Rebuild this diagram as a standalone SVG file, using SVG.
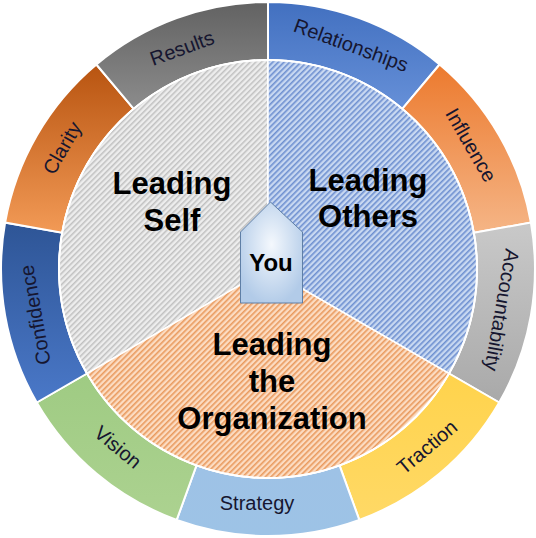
<svg xmlns="http://www.w3.org/2000/svg" width="536" height="538" viewBox="0 0 536 538">
<style>
.seg{stroke:#ffffff;stroke-width:2;stroke-linejoin:miter}
.pie{stroke:#ffffff;stroke-width:1.5}
.lbl{font-family:"Liberation Sans",Arial,sans-serif;font-size:20px;fill:#161630;text-anchor:middle;dominant-baseline:central}
.big{font-family:"Liberation Sans",Arial,sans-serif;font-size:31px;font-weight:bold;fill:#000000;text-anchor:middle}
.you{font-family:"Liberation Sans",Arial,sans-serif;font-size:24px;font-weight:bold;fill:#000000;text-anchor:middle}
</style>
<defs>
<linearGradient id="gRes" x1="0" y1="0" x2="0" y2="1"><stop offset="0" stop-color="#626262"/><stop offset="1" stop-color="#8c8c8c"/></linearGradient>
<linearGradient id="gRel" x1="0" y1="0" x2="0" y2="1"><stop offset="0" stop-color="#4270c0"/><stop offset="1" stop-color="#6690d8"/></linearGradient>
<linearGradient id="gInf" x1="0" y1="0" x2="0" y2="1"><stop offset="0" stop-color="#ec7a2e"/><stop offset="1" stop-color="#f5b586"/></linearGradient>
<linearGradient id="gAcc" x1="0" y1="0" x2="0" y2="1"><stop offset="0" stop-color="#c9c9c9"/><stop offset="1" stop-color="#a9a9a9"/></linearGradient>
<linearGradient id="gTra" x1="0" y1="0" x2="0" y2="1"><stop offset="0" stop-color="#ffd34c"/><stop offset="1" stop-color="#ffd966"/></linearGradient>
<linearGradient id="gStr" x1="0" y1="0" x2="0" y2="1"><stop offset="0" stop-color="#9ec2e6"/><stop offset="1" stop-color="#9dc3e6"/></linearGradient>
<linearGradient id="gVis" x1="0" y1="0" x2="0" y2="1"><stop offset="0" stop-color="#9fcb83"/><stop offset="1" stop-color="#acd290"/></linearGradient>
<linearGradient id="gCon" x1="0" y1="0" x2="0" y2="1"><stop offset="0" stop-color="#2e5596"/><stop offset="1" stop-color="#4a78c8"/></linearGradient>
<linearGradient id="gCla" x1="0" y1="0" x2="0" y2="1"><stop offset="0" stop-color="#b85410"/><stop offset="1" stop-color="#f29a56"/></linearGradient>
<radialGradient id="gYou" cx="0.5" cy="0.42" r="0.6"><stop offset="0" stop-color="#f4f8fd"/><stop offset="1" stop-color="#b2cbe8"/></radialGradient>
<pattern id="hSelf" patternUnits="userSpaceOnUse" width="4" height="4" patternTransform="rotate(45)"><rect width="4" height="4" fill="#ededed"/><rect width="1.5" height="4" fill="#c0c0c0"/></pattern>
<pattern id="hOth" patternUnits="userSpaceOnUse" width="4" height="4" patternTransform="rotate(45)"><rect width="4" height="4" fill="#c8d8f1"/><rect width="1.6" height="4" fill="#6e90d0"/></pattern>
<pattern id="hOrg" patternUnits="userSpaceOnUse" width="4" height="4" patternTransform="rotate(45)"><rect width="4" height="4" fill="#fcdcc2"/><rect width="1.6" height="4" fill="#e99a5e"/></pattern>
</defs>

<g id="ring">
<g id="relationships"><path class="seg" fill="url(#gRel)" d="M268,2 A267,267 0 0 1 439.6,64.5 L402.3,108.9 A209,209 0 0 0 268,60 Z"/><text class="lbl" transform="translate(351,45) rotate(20)">Relationships</text></g>
<g id="influence"><path class="seg" fill="url(#gInf)" d="M439.6,64.5 A267,267 0 0 1 530.9,222.6 L473.8,232.7 A209,209 0 0 0 402.3,108.9 Z"/><text class="lbl" transform="translate(471,145) rotate(60)">Influence</text></g>
<g id="accountability"><path class="seg" fill="url(#gAcc)" d="M530.9,222.6 A267,267 0 0 1 499.2,402.5 L449,373.5 A209,209 0 0 0 473.8,232.7 Z"/><text class="lbl" transform="translate(502,310) rotate(100)">Accountability</text></g>
<g id="traction"><path class="seg" fill="url(#gTra)" d="M499.2,402.5 A267,267 0 0 1 359.3,519.9 L339.5,465.4 A209,209 0 0 0 449,373.5 Z"/><text class="lbl" transform="translate(427,447) rotate(-40)">Traction</text></g>
<g id="strategy"><path class="seg" fill="url(#gStr)" d="M359.3,519.9 A267,267 0 0 1 176.7,519.9 L196.5,465.4 A209,209 0 0 0 339.5,465.4 Z"/><text class="lbl" transform="translate(257,503)">Strategy</text></g>
<g id="vision"><path class="seg" fill="url(#gVis)" d="M176.7,519.9 A267,267 0 0 1 36.8,402.5 L87,373.5 A209,209 0 0 0 196.5,465.4 Z"/><text class="lbl" transform="translate(118,447) rotate(40)">Vision</text></g>
<g id="confidence"><path class="seg" fill="url(#gCon)" d="M36.8,402.5 A267,267 0 0 1 5.1,222.6 L62.2,232.7 A209,209 0 0 0 87,373.5 Z"/><text class="lbl" transform="translate(35,315) rotate(-100)">Confidence</text></g>
<g id="clarity"><path class="seg" fill="url(#gCla)" d="M5.1,222.6 A267,267 0 0 1 96.4,64.5 L133.7,108.9 A209,209 0 0 0 62.2,232.7 Z"/><text class="lbl" transform="translate(62,148) rotate(-60)">Clarity</text></g>
<g id="results"><path class="seg" fill="url(#gRes)" d="M96.4,64.5 A267,267 0 0 1 268,2 L268,60 A209,209 0 0 0 133.7,108.9 Z"/><text class="lbl" transform="translate(182,48) rotate(-20)">Results</text></g>
</g>

<g id="leading-self"><path class="pie" fill="url(#hSelf)" d="M268,269 L87,373.5 A209,209 0 0 1 268,60 Z"/><text class="big" x="172" y="194">Leading</text><text class="big" x="172" y="231">Self</text></g>
<g id="leading-others"><path class="pie" fill="url(#hOth)" d="M268,269 L268,60 A209,209 0 0 1 449,373.5 Z"/><text class="big" x="368" y="191">Leading</text><text class="big" x="368" y="227">Others</text></g>
<g id="leading-organization"><path class="pie" fill="url(#hOrg)" d="M268,269 L449,373.5 A209,209 0 0 1 87,373.5 Z"/><text class="big" x="272" y="355">Leading</text><text class="big" x="272" y="392">the</text><text class="big" x="272" y="429">Organization</text></g>
<circle cx="268" cy="269" r="209" fill="none" stroke="#ffffff" stroke-width="2"/>

<g id="you"><path d="M270.5,202 L302.5,232 L302.5,303 L240.5,303 L240.5,232 Z" fill="url(#gYou)" stroke="#5f7fa6" stroke-width="1"/><text class="you" x="271" y="271">You</text></g>
</svg>
